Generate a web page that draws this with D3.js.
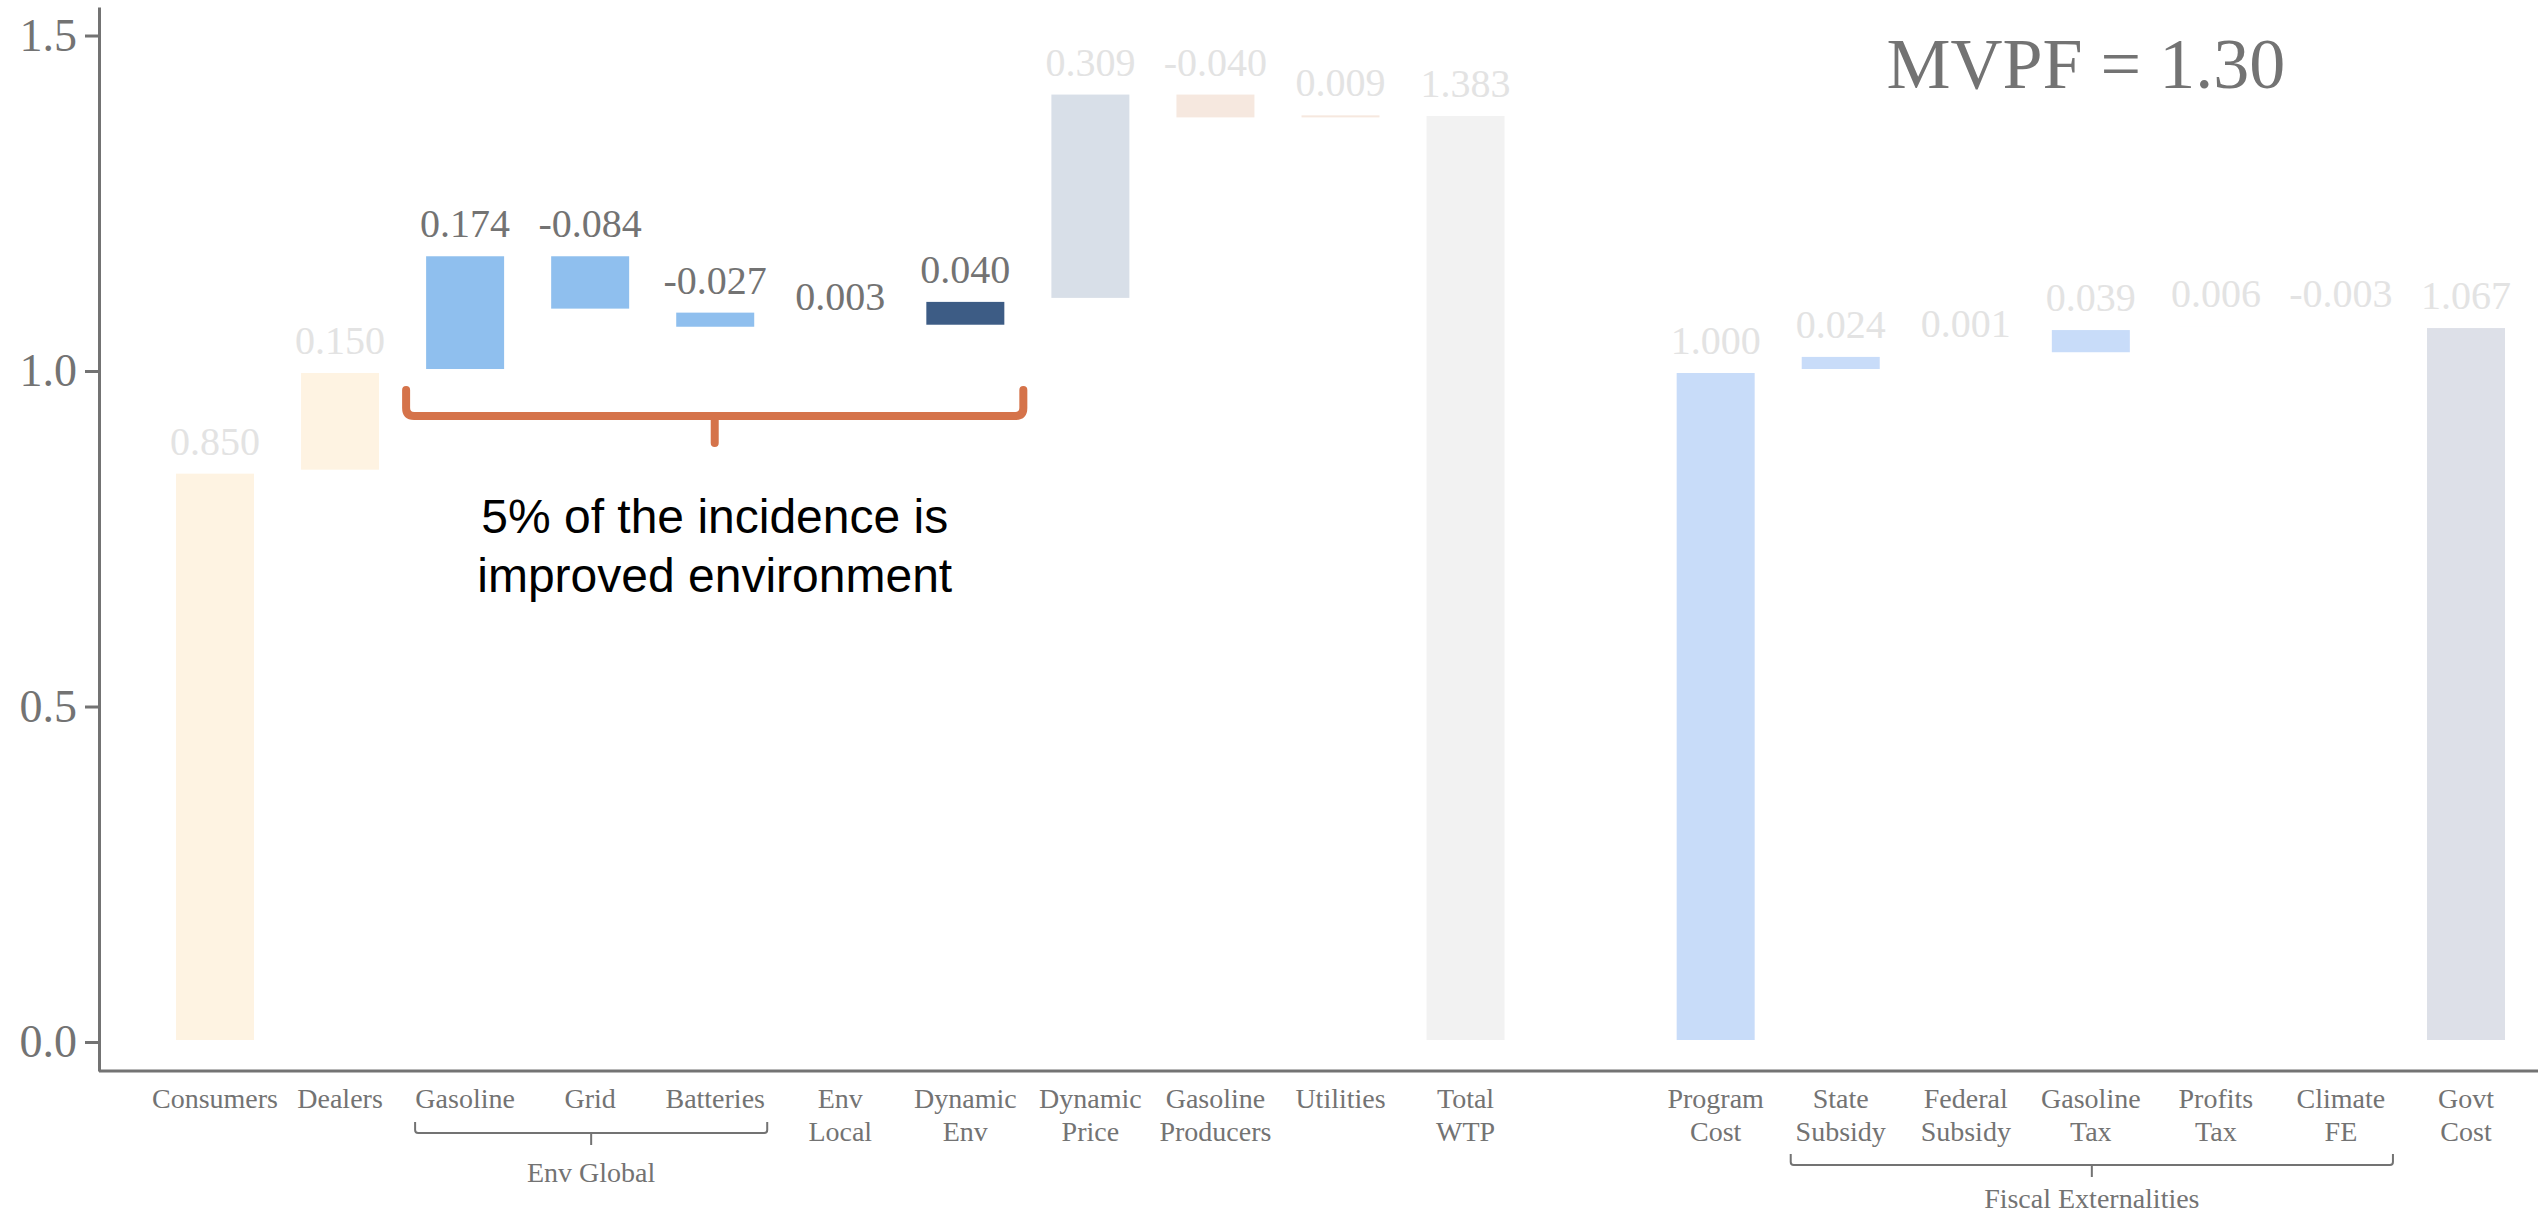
<!DOCTYPE html>
<html>
<head>
<meta charset="utf-8">
<script src="https://cdn.jsdelivr.net/npm/d3@7"></script>
<style>
  body { margin: 0; background: #fff; }
  text { font-family: "Liberation Serif", "DejaVu Serif", serif; }
</style>
</head>
<body>
<div class="main"></div>
<script>
// chart data
var categories = ["Consumers", "Dealers", "Gasoline", "Grid", "Batteries", "Env\nLocal", "Dynamic\nEnv",
	"Dynamic\nPrice", "Gasoline\nProducers", "Utilities", "Total\nWTP", "",
	"Program\nCost", "State\nSubsidy", "Federal\nSubsidy", "Gasoline\nTax", "Profits\nTax", "Climate\nFE", "Govt\nCost"];
var values = [0.850, 0.150, 0.174, -0.084, -0.027, 0.003, 0.040, 0.309, -0.040, 0.009, 1.383, null,
	1.000, 0.024, 0.001, 0.039, 0.006, -0.003, 1.067];
var kinds = ["step", "step", "step", "step", "step", "step", "step", "step", "step", "step", "total", null,
	"step", "step", "step", "step", "step", "step", "total"];
var barColors = ["#fef3e2", "#fef3e2", "#8fbfee", "#8fbfee", "#8fbfee", "#8fbfee", "#3d5c85", "#d8dfe8",
	"#f6e8df", "#f6e8df", "#f2f2f2", null, "#c8dcf9", "#c8dcf9", "#c8dcf9", "#c8dcf9", "#c8dcf9", "#c8dcf9", "#dde0e8"];
var highlighted = ["Gasoline", "Grid", "Batteries", "Env\nLocal", "Dynamic\nEnv"];
var yTicks = [0, 0.5, 1.0, 1.5];
var groups = [
	{label: "Env Global", from: "Gasoline", to: "Batteries", lines: 1},
	{label: "Fiscal Externalities", from: "State\nSubsidy", to: "Climate\nFE", lines: 2}
];
var mvpfText = "MVPF = 1.30";
var noteLines = ["5% of the incidence is", "improved environment"];

//Canvas config
var width = 2538, height = 1216;
var grey = "#737373", faint = "#e3e3e3", orange = "#d5734a";

var svg = d3.select(".main")
	.append("svg")
	.attr("width", width)
	.attr("height", height);

var xScale = d3.scalePoint().domain(categories).range([215, 2466]);
var yScale = d3.scaleLinear().domain([-0.0432, 1.5425]).range([1071, 7]);
var barW = 82;

//running totals for waterfall
var bars = [];
var running = 0;
categories.forEach(function(c, i) {
	if (values[i] == null) { running = 0; return; }
	var start, end;
	if (kinds[i] == "total") { start = 0; end = values[i]; running = 0; }
	else { start = running; end = running + values[i]; running = end; }
	bars.push({cat: c, value: values[i], start: start, end: end, color: barColors[i]});
});

//bars (white outline swallows the tiniest ones, as in the original)
svg.append("g")
	.attr("class", "bars")
	.selectAll("rect")
	.data(bars)
	.enter()
	.append("rect")
	.attr("x", function(d) { return xScale(d.cat) - barW / 2; })
	.attr("width", barW)
	.attr("y", function(d) { return yScale(Math.max(d.start, d.end)); })
	.attr("height", function(d) { return Math.abs(yScale(d.start) - yScale(d.end)); })
	.style("fill", function(d) { return d.color; })
	.style("stroke", "#fff")
	.style("stroke-width", 4);

//value labels
svg.append("g")
	.attr("class", "values")
	.selectAll("text")
	.data(bars)
	.enter()
	.append("text")
	.attr("x", function(d) { return xScale(d.cat); })
	.attr("y", function(d) { return yScale(Math.max(d.start, d.end)) - 17; })
	.attr("text-anchor", "middle")
	.style("font-size", "40px")
	.style("fill", function(d) { return highlighted.indexOf(d.cat) >= 0 ? grey : faint; })
	.text(function(d) { return d3.format(".3f")(d.value).replace("−", "-"); });

//y axis
var yAxis = d3.axisLeft(yScale)
	.tickValues(yTicks)
	.tickFormat(d3.format(".1f"))
	.tickSize(14)
	.tickSizeOuter(0)
	.tickPadding(8);
var gy = svg.append("g")
	.attr("class", "y-axis")
	.attr("transform", "translate(99,0)")
	.call(yAxis);
gy.select(".domain").style("stroke", grey).style("stroke-width", 3);
gy.selectAll(".tick line").style("stroke", grey).style("stroke-width", 3);
gy.selectAll(".tick text")
	.style("font-family", "Liberation Serif")
	.style("font-size", "46px")
	.style("fill", grey);

//x axis
svg.append("line")
	.attr("x1", 99).attr("x2", width)
	.attr("y1", 1071).attr("y2", 1071)
	.style("stroke", grey)
	.style("stroke-width", 3);

var xLabels = svg.append("g")
	.attr("class", "x-axis")
	.selectAll("text")
	.data(categories.filter(function(c) { return c != ""; }))
	.enter()
	.append("text")
	.attr("text-anchor", "middle")
	.style("font-size", "28px")
	.style("fill", grey);
xLabels.each(function(c) {
	var t = d3.select(this);
	c.split("\n").forEach(function(line, k) {
		t.append("tspan")
			.attr("x", xScale(c))
			.attr("y", 1108 + k * 33)
			.text(line);
	});
});

//group braces below the axis
function bracePath(x1, x2, top, mid, tip, r) {
	var m = (x1 + x2) / 2;
	return "M" + x1 + "," + top +
		"V" + (mid - r) + "Q" + x1 + "," + mid + " " + (x1 + r) + "," + mid +
		"H" + (x2 - r) + "Q" + x2 + "," + mid + " " + x2 + "," + (mid - r) +
		"V" + top +
		"M" + m + "," + mid + "V" + tip;
}

groups.forEach(function(g) {
	var top = g.lines == 1 ? 1122 : 1154;
	var x1 = xScale(g.from) - 50, x2 = xScale(g.to) + 52;
	svg.append("path")
		.attr("d", bracePath(x1, x2, top, top + 11, top + 23, 3))
		.style("fill", "none")
		.style("stroke", grey)
		.style("stroke-width", 2);
	svg.append("text")
		.attr("x", (x1 + x2) / 2)
		.attr("y", top + 60 - (g.lines == 1 ? 0 : 6))
		.attr("text-anchor", "middle")
		.style("font-size", "28px")
		.style("fill", grey)
		.text(g.label);
});

//orange brace over the environmental bars
var bx1 = xScale("Gasoline") - 59, bx2 = xScale("Dynamic\nEnv") + 58;
svg.append("path")
	.attr("d", bracePath(bx1, bx2, 390, 416, 443, 8))
	.style("fill", "none")
	.style("stroke", orange)
	.style("stroke-width", 8)
	.style("stroke-linecap", "round");

svg.append("g")
	.attr("class", "note")
	.selectAll("text")
	.data(noteLines)
	.enter()
	.append("text")
	.attr("x", (bx1 + bx2) / 2)
	.attr("y", function(d, i) { return 533 + i * 59; })
	.attr("text-anchor", "middle")
	.style("font-family", "Liberation Sans, Arial, sans-serif")
	.style("font-size", "48px")
	.style("fill", "#000")
	.text(function(d) { return d; });

//MVPF title
svg.append("text")
	.attr("class", "title")
	.attr("x", xScale("Gasoline\nTax") - 5)
	.attr("y", 88)
	.attr("text-anchor", "middle")
	.style("font-size", "72px")
	.style("fill", grey)
	.text(mvpfText);
</script>
</body>
</html>
